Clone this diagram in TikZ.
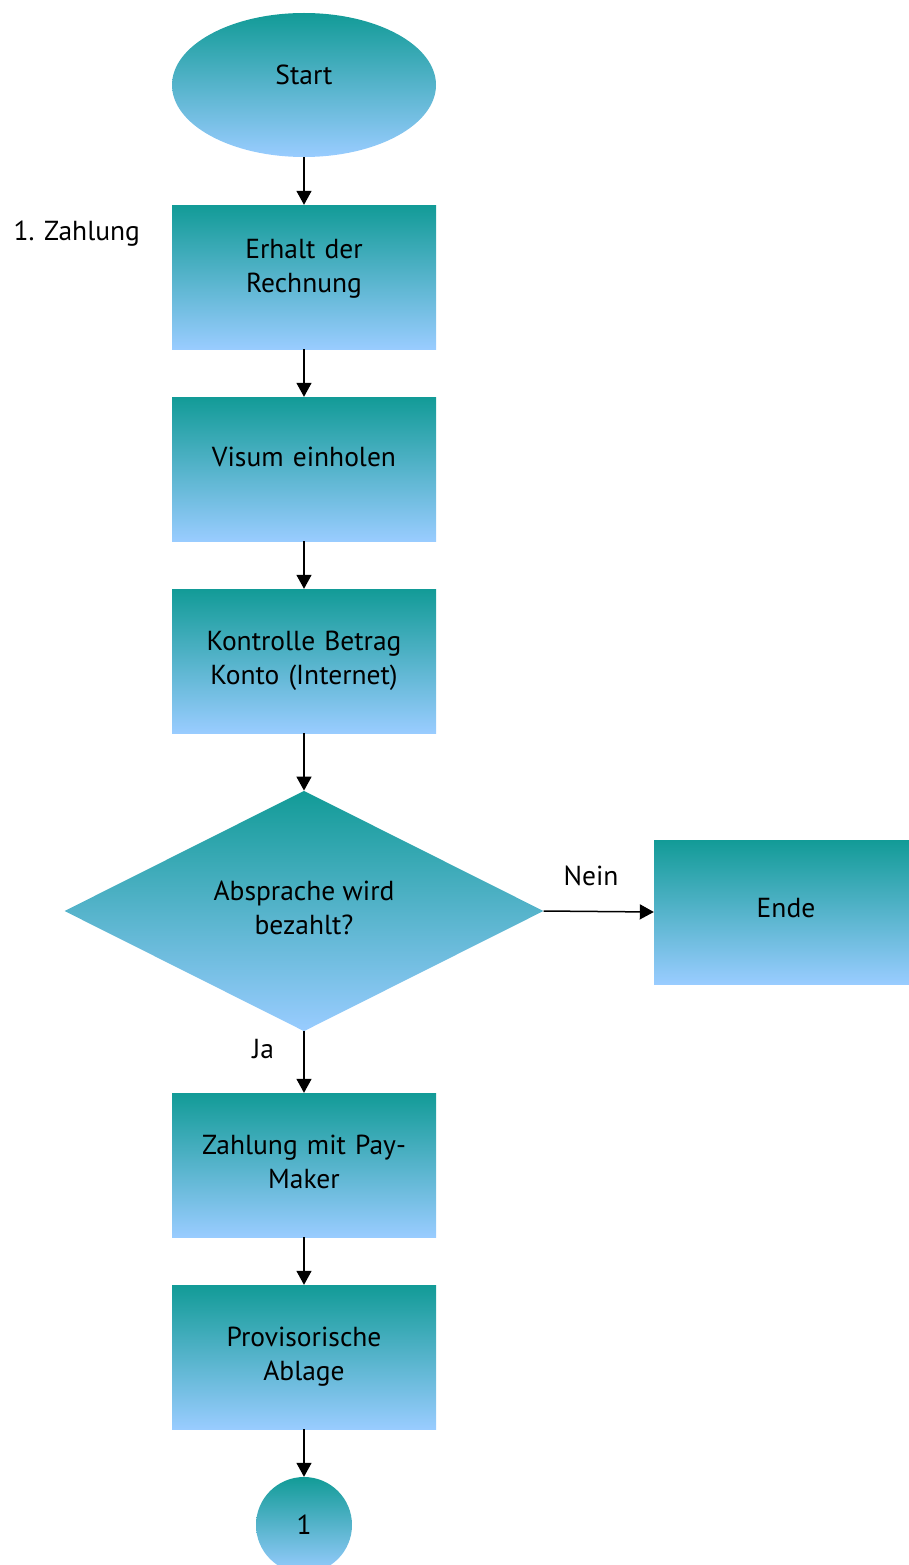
\documentclass[tikz,border=0pt]{standalone}
\usepackage{fontspec}
\setmainfont{PT Sans}
\usepackage{xcolor}
\usetikzlibrary{positioning,shapes.geometric,arrows.meta}
\definecolor{flowtop}{HTML}{129B97}
\definecolor{flowbot}{HTML}{99CCFF}
\tikzstyle{every node}=[font=\fontsize{27.5}{34}\selectfont]
\tikzstyle{grad}=[top color=flowtop, bottom color=flowbot, draw=none, align=center, inner sep=0pt]
\tikzstyle{process}=[grad, rectangle, minimum width=264pt, minimum height=144pt, text width=250pt]
\tikzstyle{flowarrow}=[-{Triangle[width=15pt,length=14pt]}, line width=1.5pt]

\begin{document}
\begin{tikzpicture}[x=1pt,y=-1pt]
        \useasboundingbox (0,0) rectangle (908,1565);
        \node[grad, ellipse, minimum width=264pt, minimum height=144pt, text depth=20pt] (start) at (304,85) {Start};
        \node[process, text depth=56pt] (rechnung) at (304,277) {Erhalt der\\Rechnung};
        \node[process, text depth=24pt] (visum) at (304,469) {Visum einholen};
        \node[process] (kontrolle) at (304,661) {Kontrolle Betrag\\Konto (Internet)};
        \node[grad, diamond, minimum width=479pt, minimum height=240pt, text depth=6pt] (absprache) at (304,911) {Absprache wird\\bezahlt?};
        \node[process, text depth=8pt] (ende) at (786,912) {Ende};
        \node[process, text depth=40pt] (paymaker) at (304,1165) {Zahlung mit Pay-\\Maker};
        \node[process] (ablage) at (304,1357) {Provisorische\\Ablage};
        \node[grad, circle, minimum size=96pt] (verbinder) at (304,1525) {1};
        \node[anchor=west] (phase) at (10,234) {1. Zahlung};
        \draw[flowarrow] (start)--(rechnung);
        \draw[flowarrow] (rechnung)--(visum);
        \draw[flowarrow] (visum)--(kontrolle);
        \draw[flowarrow] (kontrolle)--(absprache);
        \draw[flowarrow] (absprache.east)--(ende.west) node[pos=0.43, above=22pt] (nein) {Nein};
        \draw[flowarrow] (absprache.south)--(paymaker.north) node[pos=0.28, left=26pt] (ja) {Ja};
        \draw[flowarrow] (paymaker)--(ablage);
        \draw[flowarrow] (ablage)--(verbinder);
    \end{tikzpicture}
\end{document}
